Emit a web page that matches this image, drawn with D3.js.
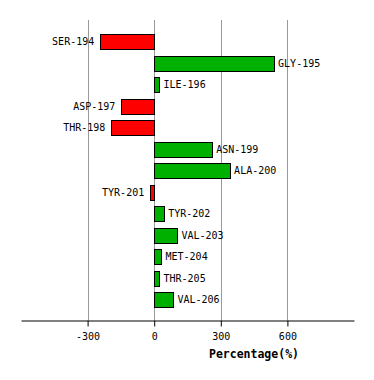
<!DOCTYPE html>
<html lang="en">
  <head>
    <meta charset="utf-8">
    <title>Percentage bar chart</title>
    <script src="https://cdnjs.cloudflare.com/ajax/libs/d3/7.8.0/d3.min.js"></script>
    <style>
      body { margin: 0; background: #fff; }
      text { font-family: "DejaVu Sans Mono", monospace; }
    </style>
  </head>
  <body>
    <div id="chart"></div>
    <script type="text/javascript">
      // data
      var residues = ["SER-194", "GLY-195", "ILE-196", "ASP-197", "THR-198", "ASN-199", "ALA-200",
                      "TYR-201", "TYR-202", "VAL-203", "MET-204", "THR-205", "VAL-206"];
      var percentages = [-243, 540, 24, -148, -193, 261, 342, -18, 45, 105, 33, 24, 87];
      var tickValues = [-300, 0, 300, 600];

      var W = 374, H = 380;
      var axisY = 320, gridTop = 20;

      var svg = d3.select("#chart").append("svg")
                  .attr("width", W)
                  .attr("height", H);

      var x = d3.scaleLinear().domain([-600, 900]).range([21, 354]);
      var y = d3.scaleBand().domain(residues).range([27.9, 313.8]).padding(0.3);

      // grid lines
      svg.append("g").selectAll("line")
         .data(tickValues)
         .enter().append("line")
         .attr("x1", function(d) { return Math.round(x(d)) + 0.5; })
         .attr("x2", function(d) { return Math.round(x(d)) + 0.5; })
         .attr("y1", gridTop)
         .attr("y2", axisY)
         .attr("stroke", "#999")
         .attr("stroke-width", 1);

      // bars
      svg.append("g").selectAll("rect")
         .data(percentages)
         .enter().append("rect")
         .attr("x", function(d) { return Math.round(x(Math.min(0, d))) + 0.5; })
         .attr("y", function(d, i) { return Math.round(y(residues[i])) + 0.5; })
         .attr("width", function(d) { return Math.max(1, Math.round(Math.abs(x(d) - x(0)))); })
         .attr("height", Math.round(y.bandwidth()))
         .attr("fill", function(d) { return d < 0 ? "#ff0000" : "#00b000"; })
         .attr("stroke", "#000")
         .attr("stroke-width", 1);

      // bar labels
      svg.append("g").selectAll("text")
         .data(percentages)
         .enter().append("text")
         .attr("x", function(d) { return d < 0 ? x(d) - 6 : x(d) + 4; })
         .attr("y", function(d, i) { return y(residues[i]) + y.bandwidth() / 2; })
         .attr("dy", "0.35em")
         .attr("text-anchor", function(d) { return d < 0 ? "end" : "start"; })
         .attr("font-size", "10px")
         .attr("fill", "#000")
         .text(function(d, i) { return residues[i]; });

      // x axis
      var axis = svg.append("g")
                    .attr("transform", "translate(0," + (axisY + 0.5) + ")")
                    .call(d3.axisBottom(x).tickValues(tickValues).tickSize(6).tickSizeOuter(0));
      axis.select(".domain").attr("stroke", "#000");
      axis.selectAll(".tick line").attr("stroke", "#000");
      axis.selectAll(".tick text")
          .attr("font-family", "DejaVu Sans Mono, monospace")
          .attr("font-size", "10px")
          .attr("fill", "#000")
          .attr("y", 12)
          .text(function(d) { return d; });

      svg.append("text")
         .attr("x", 254)
         .attr("y", 358)
         .attr("text-anchor", "middle")
         .attr("font-size", "11.5px")
         .attr("font-weight", "bold")
         .text("Percentage(%)");
    </script>
  </body>
</html>
